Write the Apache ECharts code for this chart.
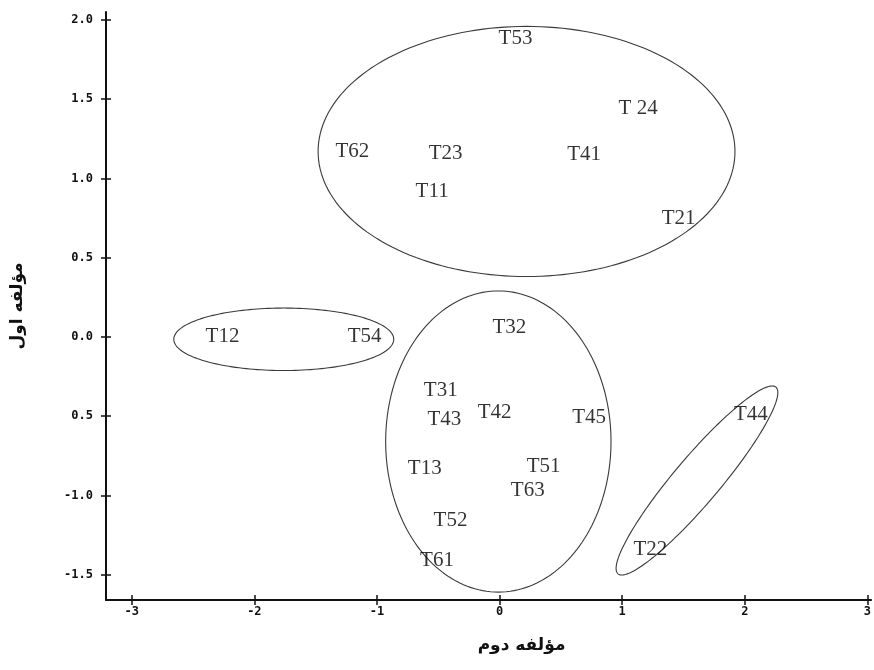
<!DOCTYPE html>
<html>
<head>
<meta charset="utf-8">
<script src="https://cdn.jsdelivr.net/npm/echarts@6/dist/echarts.min.js"></script>
<style>
html,body{margin:0;padding:0;background:#fff;}
#chart{width:874px;height:670px;}
</style>
</head>
<body>
<div id="chart"></div>
<script>
// ---- Data ----
const categories = ['T53','T 24','T62','T23','T41','T11','T21','T12','T54','T32','T31','T43','T42','T45','T44','T13','T51','T63','T52','T22','T61'];
const xValues = [0.13, 1.13, -1.20, -0.44, 0.69, -0.55, 1.46, -2.26, -1.10, 0.08, -0.48, -0.45, -0.04, 0.73, 2.05, -0.61, 0.36, 0.23, -0.40, 1.23, -0.51];
const yValues = [1.88, 1.44, 1.17, 1.16, 1.15, 0.92, 0.75, 0.00, 0.00, 0.06, -0.34, -0.52, -0.48, -0.51, -0.49, -0.83, -0.82, -0.97, -1.16, -1.34, -1.41];

// ellipse groups: centre and two conjugate half-axis vectors (data units)
const ellipseCx = [0.22, -1.76, -0.01, 1.61];
const ellipseCy = [1.17, -0.015, -0.66, -0.906];
const ellipseUx = [1.70, 0.897, 0.919, 0.644];
const ellipseUy = [0, 0, 0, 0.589];
const ellipseVx = [0, 0, 0, 0.143];
const ellipseVy = [0.789, 0.197, 0.950, -0.094];

const xTicks = [-3, -2, -1, 0, 1, 2, 3];
const xTickLabels = ['-3', '-2', '-1', '0', '1', '2', '3'];
const yTicks = [-1.5, -1.0, -0.5, 0, 0.5, 1.0, 1.5, 2.0];
const yTickLabels = ['-1.5', '-1.0', '0.5', '0.0', '0.5', '1.0', '1.5', '2.0'];

const xTitle = 'مؤلفه دوم';
const yTitle = 'مؤلفه اول';

// ---- Build ----
const pointData = categories.map((c, i) => ({ name: c, value: [xValues[i], yValues[i]] }));
const ellipseData = ellipseCx.map((c, i) => [c, ellipseCy[i], ellipseUx[i], ellipseUy[i], ellipseVx[i], ellipseVy[i]]);

function labelFor(ticks, labels) {
  return function (v) {
    const i = ticks.findIndex(t => Math.abs(t - v) < 1e-6);
    return i >= 0 ? labels[i] : '';
  };
}

const X_MIN = -3.21, X_MAX = 3.03, Y_MIN = -1.66, Y_MAX = 2.05;
const tickFont = { color: '#111', fontFamily: 'DejaVu Sans Mono', fontWeight: 'bold', fontSize: 12 };
const tickLine = { color: '#111', width: 1.5 };

const chart = echarts.init(document.getElementById('chart'), null, { renderer: 'canvas' });
chart.setOption({
  backgroundColor: '#ffffff',
  animation: false,
  grid: { left: 106, right: 1, top: 12, bottom: 70 },
  xAxis: [{
    type: 'value', min: X_MIN, max: X_MAX, position: 'bottom',
    axisLine: { show: true, onZero: false, lineStyle: { color: '#111', width: 2 } },
    axisTick: { show: true, inside: false, length: 5, customValues: xTicks, lineStyle: tickLine },
    axisLabel: { show: true, margin: 6, customValues: xTicks, formatter: labelFor(xTicks, xTickLabels), ...tickFont },
    splitLine: { show: false },
    name: xTitle, nameLocation: 'middle', nameGap: 37,
    nameTextStyle: { fontFamily: 'DejaVu Sans', fontWeight: 'bold', fontSize: 17, color: '#111', padding: [0, 0, 0, 66] }
  }, {
    type: 'value', min: X_MIN, max: X_MAX, position: 'bottom',
    axisLine: { show: false, onZero: false },
    axisTick: { show: true, inside: true, length: 5, customValues: xTicks, lineStyle: tickLine },
    axisLabel: { show: false },
    splitLine: { show: false }
  }],
  yAxis: [{
    type: 'value', min: Y_MIN, max: Y_MAX, position: 'left',
    axisLine: { show: true, onZero: false, lineStyle: { color: '#111', width: 2 } },
    axisTick: { show: true, inside: false, length: 5, customValues: yTicks, lineStyle: tickLine },
    axisLabel: { show: true, margin: 13, customValues: yTicks, formatter: labelFor(yTicks, yTickLabels), ...tickFont },
    splitLine: { show: false },
    name: yTitle, nameLocation: 'middle', nameGap: 80, nameRotate: 90,
    nameTextStyle: { fontFamily: 'DejaVu Sans', fontWeight: 'bold', fontSize: 17, color: '#111' }
  }, {
    type: 'value', min: Y_MIN, max: Y_MAX, position: 'left',
    axisLine: { show: false, onZero: false },
    axisTick: { show: true, inside: true, length: 5, customValues: yTicks, lineStyle: tickLine },
    axisLabel: { show: false },
    splitLine: { show: false }
  }],
  series: [{
    type: 'custom',
    xAxisIndex: 0, yAxisIndex: 0,
    clip: false,
    silent: true,
    data: ellipseData,
    renderItem: function (params, api) {
      const cx = api.value(0), cy = api.value(1);
      const ux = api.value(2), uy = api.value(3), vx = api.value(4), vy = api.value(5);
      const pts = [];
      const n = 180;
      for (let k = 0; k < n; k++) {
        const t = 2 * Math.PI * k / n;
        pts.push(api.coord([cx + ux * Math.cos(t) + vx * Math.sin(t), cy + uy * Math.cos(t) + vy * Math.sin(t)]));
      }
      return {
        type: 'polygon',
        shape: { points: pts },
        style: { fill: 'none', stroke: '#3a3a3a', lineWidth: 1.1 }
      };
    }
  }, {
    type: 'scatter',
    xAxisIndex: 0, yAxisIndex: 0,
    symbolSize: 1,
    itemStyle: { color: 'rgba(0,0,0,0)' },
    data: pointData,
    label: {
      show: true, position: 'inside',
      formatter: p => p.name,
      fontFamily: 'Liberation Serif', fontSize: 21, color: '#000'
    }
  }]
});
</script>
</body>
</html>
